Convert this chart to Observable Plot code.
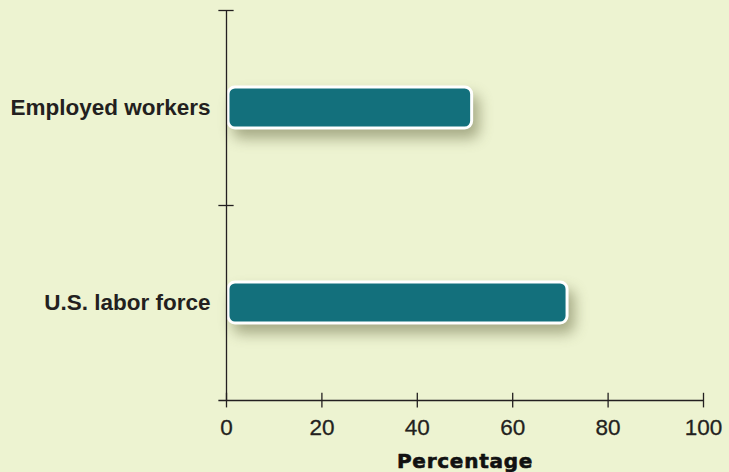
<!DOCTYPE html>
<html>
<head>
<meta charset="utf-8">
<script src="https://cdn.jsdelivr.net/npm/d3@7"></script>
<script src="https://cdn.jsdelivr.net/npm/@observablehq/plot@0.6"></script>
<style>
  html, body { margin: 0; padding: 0; background: #edf3d1; }
  #chart svg { display: block; }
  #chart g[aria-label="rect"] { filter: drop-shadow(6px 9px 7px rgba(70, 72, 30, 0.42)); }
</style>
</head>
<body>
<div id="chart"></div>
<script>
const categories = ["Employed workers", "U.S. labor force"];
const values = [51.5, 71.5];
const xTicks = [0, 20, 40, 60, 80, 100];
const xLabel = "Percentage";

const rows = categories.map((c, i) => ({ cat: c, value: values[i], i }));
const ink = "#231f20";
const font = "'Liberation Sans', Arial, Helvetica, sans-serif";

const chart = Plot.plot({
  width: 729,
  height: 472,
  marginLeft: 226,
  marginRight: 26,
  marginTop: 10,
  marginBottom: 72,
  style: { background: "#edf3d1", fontFamily: font, color: ink, overflow: "visible" },
  x: { domain: [0, 100], axis: null },
  y: { domain: [2, 0], axis: null },
  marks: [
    // bars
    Plot.rect(rows, {
      x1: 0, x2: "value",
      y1: d => d.i, y2: d => d.i + 1,
      insetTop: 77, insetBottom: 77, insetLeft: 2,
      rx: 7,
      fill: "#13707c", stroke: "white", strokeWidth: 3
    }),
    // y axis line and ticks
    Plot.ruleX([0], { y1: 0, y2: 2, stroke: ink, strokeWidth: 1.3 }),
    Plot.ruleY([0, 1], { x1: -1.6, x2: 1.6, stroke: ink, strokeWidth: 1.3 }),
    // x axis line and ticks
    Plot.ruleY([2], { x1: -1.6, x2: 100, stroke: ink, strokeWidth: 1.3 }),
    Plot.ruleX(xTicks, { y1: 2 - 0.037, y2: 2 + 0.038, stroke: ink, strokeWidth: 1.3 }),
    // x tick labels
    Plot.text(xTicks, { x: d => d, y: 2, dy: 27, text: d => String(d), fontSize: 22.5, fill: ink, stroke: ink, strokeWidth: 0.3, lineAnchor: "middle" }),
    // category labels
    Plot.text(rows, { x: 0, y: d => d.i + 0.5, text: "cat", textAnchor: "end", dx: -16, fontSize: 22.5, fontWeight: "bold", fill: ink, lineAnchor: "middle" }),
    // axis title
    Plot.text([xLabel], { x: 50, y: 2, dy: 61, text: d => d, fontSize: 20, fontWeight: "bold", fontFamily: "'DejaVu Sans', sans-serif", fill: "#111", stroke: "#111", strokeWidth: 0.6, lineAnchor: "middle" })
  ]
});
document.getElementById("chart").append(chart);
d3.select(chart).selectAll('g[aria-label="text"]').filter((d, i, n) => i === 2).selectAll("text").style("letter-spacing", "0.75px");
</script>
</body>
</html>
